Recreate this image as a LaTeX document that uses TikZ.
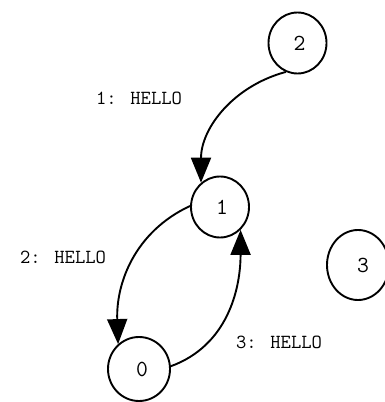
\documentclass[tikz,border=0pt]{standalone}
\usetikzlibrary{arrows.meta,shapes.geometric}
\begin{document}
\begin{tikzpicture}[x=1pt,y=1pt,
  state/.style={draw,line width=1.9pt,ellipse,minimum width=58pt,minimum height=61pt,inner sep=0pt,font=\fontsize{23}{26}\selectfont\ttfamily},
  msg/.style={font=\fontsize{20}{24}\selectfont\ttfamily},
  edge/.style={line width=1.9pt,-{Triangle[length=25pt,width=20pt]}}]
\useasboundingbox (0,0) rectangle (384,402);
\node[state] (n2) at (297.5,359) {\hspace{4pt}2};
\node[state] (n1) at (220,195) {\hspace{4pt}1};
\node[state,minimum width=62pt,minimum height=70pt] (n3) at (358,137) {\hspace{10pt}3};
\node[state,minimum width=62pt,minimum height=64pt] (n0) at (139,33) {\raisebox{-8pt}{\hspace{6pt}0}};
\draw[edge] (n2.-112) to[out=195,in=90] (n1.128);
\draw[edge] (n1.178) to[out=205,in=92] (n0.130);
\draw[edge] (n0.5) to[out=20,in=-90] (n1.-48);
\node[msg] (l1) at (139,304) {1: HELLO};
\node[msg] (l2) at (63,145) {2: HELLO};
\node[msg] (l3) at (279,60) {3: HELLO};
\end{tikzpicture}
\end{document}
